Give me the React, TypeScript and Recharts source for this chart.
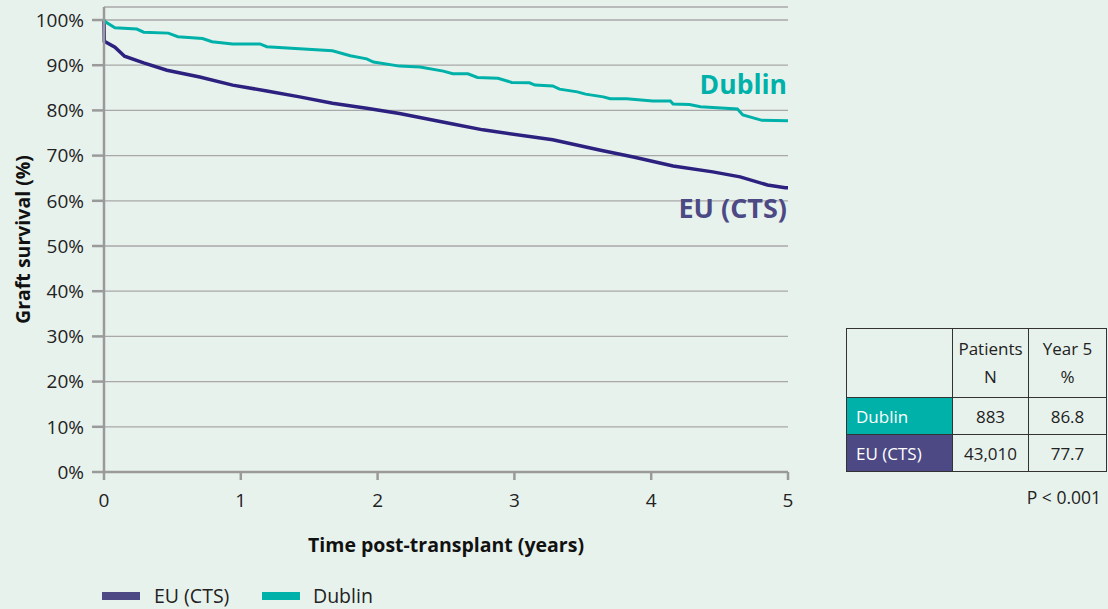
import React from "react";
import { LineChart, Line, XAxis, YAxis, CartesianGrid } from "recharts";

// Dublin Kaplan-Meier curve (years, % graft survival)
const dublinYears = [
  0, 0.01, 0.08, 0.24, 0.29, 0.47, 0.54, 0.72, 0.79, 0.94, 1.14, 1.19, 1.67, 1.8, 1.92, 1.97,
  2.16, 2.31, 2.48, 2.55, 2.66, 2.73, 2.88, 2.98, 3.11, 3.15, 3.28, 3.33, 3.46, 3.52, 3.65,
  3.7, 3.82, 4.01, 4.14, 4.16, 4.28, 4.36, 4.63, 4.67, 4.81, 5.0,
];
const dublinSurvival = [
  100, 99.6, 98.3, 98.0, 97.3, 97.1, 96.3, 95.9, 95.2, 94.7, 94.7, 94.1, 93.2, 92.1, 91.4, 90.7,
  89.8, 89.6, 88.7, 88.1, 88.1, 87.3, 87.1, 86.2, 86.1, 85.6, 85.4, 84.7, 84.1, 83.6, 83.0,
  82.6, 82.6, 82.1, 82.1, 81.4, 81.3, 80.8, 80.3, 79.0, 77.8, 77.7,
];

// EU (CTS) curve
const euYears = [
  0, 0.002, 0.08, 0.15, 0.29, 0.46, 0.7, 0.94, 1.19, 1.43, 1.67, 1.92, 2.16, 2.55, 2.77, 3.28,
  3.63, 3.87, 4.16, 4.45, 4.65, 4.85, 4.98, 5.0,
];
const euSurvival = [
  100, 95.3, 94.0, 92.0, 90.5, 88.9, 87.4, 85.6, 84.3, 83.0, 81.6, 80.5, 79.3, 77.0, 75.7, 73.5,
  71.2, 69.7, 67.7, 66.4, 65.3, 63.5, 62.9, 62.9,
];

const xTicks = [0, 1, 2, 3, 4, 5];
const yTicks = [0, 10, 20, 30, 40, 50, 60, 70, 80, 90, 100];

// summary table
const tableRows = ["Dublin", "EU (CTS)"];
const patientsN = ["883", "43,010"];
const year5Pct = ["86.8", "77.7"];

const TEAL = "#00b1a9";
const EU_LINE = "#2d2180";
const EU_SOFT = "#4c4984";
const BG = "#e8f2ec";
const FONT = "'Open Sans', Lato, sans-serif";

const dublinData = dublinYears.map((t, i) => ({ t, v: dublinSurvival[i] }));
const euData = euYears.map((t, i) => ({ t, v: euSurvival[i] }));
const rowColors = [TEAL, EU_SOFT];

const cell: React.CSSProperties = {
  border: "1px solid #333",
  textAlign: "center",
  padding: 0,
  fontSize: 17,
  color: "#222",
};

export default function App() {
  return (
    <div
      style={{
        position: "absolute",
        left: 0,
        top: 0,
        width: 1108,
        height: 609,
        background: BG,
        fontFamily: FONT,
        overflow: "hidden",
      }}
    >
      <LineChart
        width={1108}
        height={609}
        margin={{ top: 7, right: 320, left: 103, bottom: 136 }}
      >
        <CartesianGrid vertical={false} stroke="#a8a8a8" strokeWidth={1.3} />
        <XAxis
          dataKey="t"
          type="number"
          domain={[0, 5]}
          ticks={xTicks}
          height={1}
          tickSize={8}
          tickMargin={14}
          stroke="#9a9a9a"
          strokeWidth={2.5}
          tick={{ fill: "#222", fontSize: 19, fontFamily: FONT }}
          label={{
            value: "Time post-transplant (years)",
            position: "bottom",
            offset: 65,
            style: { fill: "#111", fontSize: 19.5, fontWeight: 700, fontFamily: FONT },
          }}
          allowDuplicatedCategory={false}
        />
        <YAxis
          type="number"
          domain={[0, 102.88]}
          ticks={yTicks}
          width={1}
          tickSize={12}
          tickMargin={8}
          stroke="#9a9a9a"
          strokeWidth={2.5}
          tickFormatter={(v) => `${v}%`}
          tick={{ fill: "#222", fontSize: 19, fontFamily: FONT }}
          label={{
            value: "Graft survival (%)",
            angle: -90,
            position: "left",
            offset: 80,
            style: { fill: "#111", fontSize: 19.5, fontWeight: 700, fontFamily: FONT, textAnchor: "middle" },
          }}
        />
        <Line
          data={euData}
          dataKey="v"
          type="linear"
          stroke={EU_LINE}
          strokeWidth={3.5}
          dot={false}
          isAnimationActive={false}
        />
        <Line
          data={dublinData}
          dataKey="v"
          type="linear"
          stroke={TEAL}
          strokeWidth={3}
          dot={false}
          isAnimationActive={false}
        />
      </LineChart>

      <div
        style={{
          position: "absolute",
          right: 1108 - 787,
          top: 66,
          color: TEAL,
          fontSize: 26.5,
          fontWeight: 700,
        }}
      >
        Dublin
      </div>
      <div
        style={{
          position: "absolute",
          right: 1108 - 787,
          top: 189,
          color: EU_SOFT,
          fontSize: 27,
          fontWeight: 700,
        }}
      >
        EU (CTS)
      </div>

      <table
        style={{
          position: "absolute",
          left: 846,
          top: 328,
          borderCollapse: "collapse",
          fontFamily: FONT,
        }}
      >
        <tbody>
          <tr style={{ height: 69 }}>
            <td style={{ ...cell, width: 105 }}></td>
            <td style={{ ...cell, width: 75, lineHeight: "28px" }}>
              Patients
              <br />N
            </td>
            <td style={{ ...cell, width: 77, lineHeight: "28px" }}>
              Year 5
              <br />%
            </td>
          </tr>
          {tableRows.map((name, i) => (
            <tr key={name} style={{ height: 37 }}>
              <td
                style={{
                  ...cell,
                  background: rowColors[i],
                  color: "#fff",
                  textAlign: "left",
                  paddingLeft: 9,
                }}
              >
                {name}
              </td>
              <td style={cell}>{patientsN[i]}</td>
              <td style={cell}>{year5Pct[i]}</td>
            </tr>
          ))}
        </tbody>
      </table>
      <div
        style={{
          position: "absolute",
          right: 7,
          top: 485,
          fontSize: 17.5,
          color: "#222",
        }}
      >
        P &lt; 0.001
      </div>

      <div style={{ position: "absolute", left: 102, top: 592, width: 38, height: 8, background: EU_SOFT }} />
      <div style={{ position: "absolute", left: 154, top: 583, fontSize: 19.5, color: "#222", lineHeight: "26px" }}>
        EU (CTS)
      </div>
      <div style={{ position: "absolute", left: 262, top: 592, width: 38, height: 8, background: TEAL }} />
      <div style={{ position: "absolute", left: 313, top: 583, fontSize: 19.5, color: "#222", lineHeight: "26px" }}>
        Dublin
      </div>
    </div>
  );
}
